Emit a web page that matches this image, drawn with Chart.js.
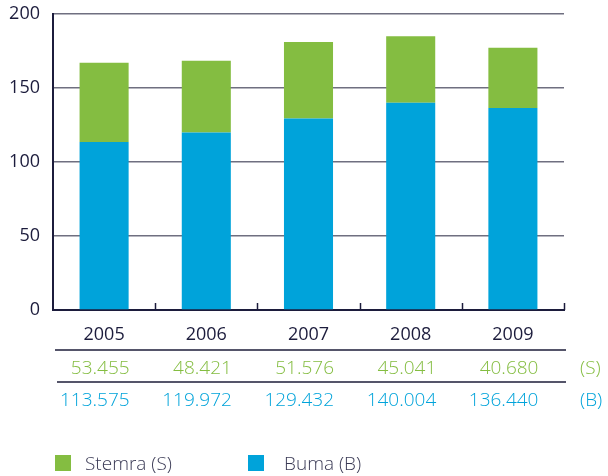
<!DOCTYPE html>
<html>
<head>
<meta charset="utf-8">
<script src="https://cdn.jsdelivr.net/npm/chart.js@4/dist/chart.umd.min.js"></script>
<style>
  html, body { margin: 0; padding: 0; background: #ffffff; }
  #wrap { width: 608px; height: 476px; position: relative; }
</style>
</head>
<body>
<div id="wrap"><canvas id="c" width="608" height="476"></canvas></div>
<script>
const years = ['2005', '2006', '2007', '2008', '2009'];
const bumaValues = [113.575, 119.972, 129.432, 140.004, 136.440];
const stemraValues = [53.455, 48.421, 51.576, 45.041, 40.680];
const yTicks = [0, 50, 100, 150, 200];
const seriesNames = ['Stemra (S)', 'Buma (B)'];
const rowTags = ['(S)', '(B)'];

const GREEN = '#84bd41';
const BLUE = '#00a3da';
const NAVY = '#1c1c3c';
const GRID = '#6f6f80';
const FONT = '"Open Sans", "Noto Sans", sans-serif';

const tablePlugin = {
  id: 'tablePlugin',
  afterDraw(chart) {
    const ctx = chart.ctx;
    const xs = chart.scales.x;
    const area = chart.chartArea;
    ctx.save();
    // inward ticks at category boundaries
    ctx.strokeStyle = NAVY;
    ctx.lineWidth = 1.5;
    const n = years.length;
    for (let i = 0; i < n; i++) {
      const bx = i < n - 1 ? (xs.getPixelForValue(i) + xs.getPixelForValue(i + 1)) / 2 : area.right;
      ctx.beginPath();
      ctx.moveTo(Math.round(bx) + 0.5, area.bottom);
      ctx.lineTo(Math.round(bx) + 0.5, area.bottom - 7);
      ctx.stroke();
    }
    // table lines
    ctx.strokeStyle = '#55556a';
    ctx.lineWidth = 2;
    ctx.beginPath(); ctx.moveTo(55, 350); ctx.lineTo(area.right + 2, 350); ctx.stroke();
    ctx.beginPath(); ctx.moveTo(57, 382); ctx.lineTo(area.right + 2, 382); ctx.stroke();
    // numbers
    const meta = chart.getDatasetMeta(0);
    ctx.font = '300 19px ' + FONT;
    ctx.textAlign = 'right';
    ctx.textBaseline = 'alphabetic';
    for (let i = 0; i < n; i++) {
      const el = meta.data[i];
      const rx = el.x + el.width / 2 + 1;
      ctx.fillStyle = GREEN;
      ctx.fillText(stemraValues[i].toFixed(3), rx, 374);
      ctx.fillStyle = BLUE;
      ctx.fillText(bumaValues[i].toFixed(3), rx, 406);
    }
    ctx.textAlign = 'left';
    ctx.fillStyle = GREEN;
    ctx.fillText(rowTags[0], 580, 374);
    ctx.fillStyle = BLUE;
    ctx.fillText(rowTags[1], 580, 406);
    // legend
    ctx.fillStyle = GREEN;
    ctx.fillRect(55, 455, 16, 16);
    ctx.fillStyle = BLUE;
    ctx.fillRect(248, 455, 16, 16);
    ctx.fillStyle = '#3a3a55';
    ctx.fillText(seriesNames[0], 85, 470);
    ctx.fillText(seriesNames[1], 284, 470);
    ctx.restore();
  }
};

new Chart(document.getElementById('c'), {
  type: 'bar',
  data: {
    labels: years,
    datasets: [
      { label: seriesNames[1], data: bumaValues, backgroundColor: BLUE, borderWidth: 0 },
      { label: seriesNames[0], data: stemraValues, backgroundColor: GREEN, borderWidth: 0 }
    ]
  },
  options: {
    responsive: false,
    animation: false,
    events: [],
    categoryPercentage: 1,
    barPercentage: 0.48,
    layout: { padding: { top: 14, right: 44, left: 0, bottom: 0 } },
    plugins: { legend: { display: false }, tooltip: { enabled: false } },
    scales: {
      x: {
        stacked: true,
        grid: { display: false, drawTicks: false },
        border: { display: true, color: NAVY, width: 2 },
        ticks: { color: NAVY, font: { family: FONT, size: 18, weight: '500' }, padding: 14 },
        afterFit(s) { s.height = 166; s.paddingLeft = 0; s.paddingRight = 0; }
      },
      y: {
        stacked: true,
        min: 0, max: 200,
        afterBuildTicks(s) { s.ticks = yTicks.map(v => ({ value: v })); },
        grid: { color: GRID, lineWidth: 1.5, drawTicks: false },
        border: { display: true, color: NAVY, width: 2 },
        ticks: { color: NAVY, font: { family: FONT, size: 18 }, padding: 13 },
        afterFit(s) { s.width = 53; s.paddingTop = 0; s.paddingBottom = 0; }
      }
    }
  },
  plugins: [tablePlugin]
});
</script>
</body>
</html>
